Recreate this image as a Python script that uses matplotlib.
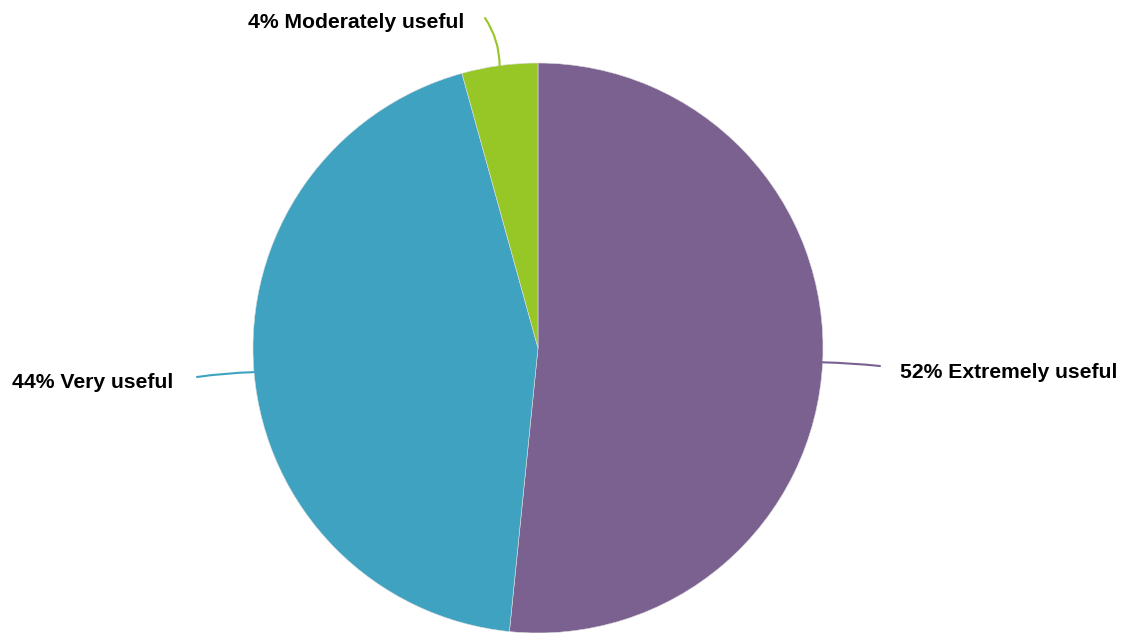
import numpy as np
import matplotlib.pyplot as plt

plt.rcParams["font.family"] = ["Liberation Sans", "DejaVu Sans"]

labels = ["Extremely useful", "Very useful", "Moderately useful"]
shares = [51.6, 44.1, 4.3]
colors = ["#7B6190", "#3FA2C0", "#96C726"]

# label text positions (figure pixels, y down) and leader end points
text_pos = [(900, 372), (12, 383), (248, 22)]
line_end = [(880, 366), (197, 377), (485, 18)]

W, H = 1121, 633
fig = plt.figure(figsize=(W / 100, H / 100), dpi=100)
ax = fig.add_axes([0, 0, 1, 1])

cx, cy, r = 538, H - 348, 285
wedges, _ = ax.pie(shares, colors=colors, startangle=90, counterclock=False,
                   center=(cx, cy), radius=r, frame=True,
                   wedgeprops=dict(linewidth=0.4, edgecolor="#dddddd"))
ax.set_xlim(0, W)
ax.set_ylim(0, H)
ax.set_aspect("equal")
ax.axis("off")

rads = [-0.02, 0.03, 0.15]
for w, lab, val, tp, le, c, rad in zip(wedges, labels, shares, text_pos,
                                       line_end, colors, rads):
    mid = np.deg2rad((w.theta1 + w.theta2) / 2)
    anchor = (cx + r * np.cos(mid), cy + r * np.sin(mid))
    ax.annotate("", xy=(le[0], H - le[1]), xytext=anchor,
                arrowprops=dict(arrowstyle="-", color=c, lw=1.5,
                                shrinkA=0, shrinkB=0,
                                connectionstyle=f"arc3,rad={rad}"))
    ax.text(tp[0], H - tp[1], f"{val:.0f}% {lab}", ha="left", va="center",
            fontsize=15.2, fontweight="bold", color="black")

fig.savefig("out.png", dpi=100)
